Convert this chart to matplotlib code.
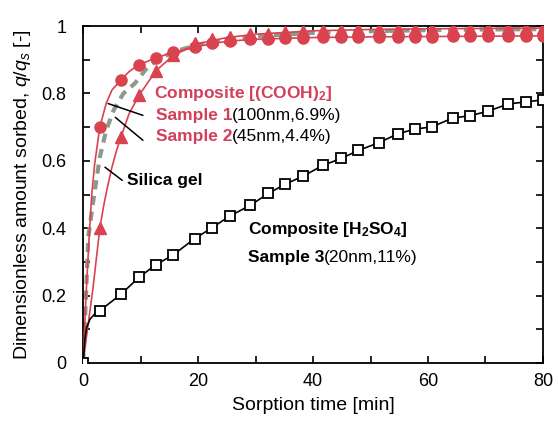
import matplotlib
matplotlib.use("Agg")
import matplotlib.pyplot as plt

plt.rcParams["font.family"] = ["Liberation Sans", "DejaVu Sans"]
plt.rcParams["mathtext.fontset"] = "custom"
plt.rcParams["mathtext.rm"] = "Liberation Sans"
plt.rcParams["mathtext.it"] = "Liberation Sans:italic"
plt.rcParams["mathtext.bf"] = "Liberation Sans:bold"

RED = "#d9434f"
RED_TXT = "#d2405a"
GRAY = "#8c9a8c"

# marker sampling times [min]
t_pts = [0, 2.9, 6.6, 9.7, 12.7, 15.7, 19.4, 22.5, 25.5, 29.1, 32.2, 35.2, 38.2,
         41.8, 44.9, 47.9, 51.5, 54.7, 57.7, 60.7, 64.3, 67.3, 70.4, 74.0, 77.1, 80.0]

# Sample 3 (H2SO4) - open squares
q_s3 = [0, 0.155, 0.204, 0.254, 0.292, 0.321, 0.369, 0.402, 0.436, 0.468, 0.503, 0.531,
        0.554, 0.587, 0.607, 0.631, 0.654, 0.680, 0.694, 0.701, 0.727, 0.734, 0.747,
        0.769, 0.775, 0.781]
# Sample 1 (COOH)2 - circles
q_s1 = [0, 0.700, 0.840, 0.885, 0.906, 0.922, 0.938, 0.950, 0.957, 0.962, 0.963, 0.965,
        0.966, 0.967, 0.967, 0.968, 0.968, 0.968, 0.969, 0.969, 0.970, 0.970, 0.970,
        0.970, 0.971, 0.971]
# Sample 2 (COOH)2 - triangles
q_s2 = [0, 0.400, 0.672, 0.794, 0.868, 0.913, 0.950, 0.962, 0.967, 0.977, 0.978, 0.982,
        0.985, 0.987, 0.989, 0.990, 0.990, 0.991, 0.991, 0.992, 0.992, 0.992, 0.993,
        0.993, 0.993, 0.994]

# fitted curves
fit_t1 = [0, 0.5, 1.0, 1.5, 2.0, 2.9, 4.0, 5.0, 6.6, 8.0, 9.7, 12.7, 15.7, 20, 25, 30, 40, 50, 60, 70, 80]
fit_q1 = [0, 0.20, 0.36, 0.50, 0.59, 0.70, 0.77, 0.81, 0.84, 0.865, 0.885, 0.906, 0.922,
          0.940, 0.955, 0.961, 0.966, 0.968, 0.969, 0.970, 0.971]
fit_t2 = [0, 0.6, 1.7, 2.9, 3.5, 4.2, 5.0, 5.8, 6.6, 8.0, 9.7, 12.7, 15.7, 20, 25, 30, 40, 50, 60, 70, 80]
fit_q2 = [0, 0.08, 0.22, 0.40, 0.46, 0.52, 0.58, 0.63, 0.672, 0.74, 0.794, 0.868, 0.913,
          0.948, 0.966, 0.976, 0.986, 0.990, 0.992, 0.993, 0.994]
fit_tg = [0, 0.5, 0.9, 1.8, 2.9, 4.0, 5.3, 7.0, 9.0, 11.3, 14, 17, 20, 25, 30, 40, 50, 60, 70, 80]
fit_qg = [0, 0.20, 0.375, 0.485, 0.611, 0.69, 0.75, 0.80, 0.83, 0.88, 0.91, 0.93, 0.945,
          0.960, 0.970, 0.980, 0.985, 0.988, 0.990, 0.991]
fit_t3 = [0, 0.3, 0.6, 1.2, 2.0, 2.9] + t_pts[2:]
fit_q3 = [0, 0.07, 0.105, 0.13, 0.145, 0.155] + q_s3[2:]

fig = plt.figure(figsize=(5.58, 4.21), dpi=100)
ax = fig.add_axes([0.149, 0.138, 0.824, 0.800])

ax.plot(fit_tg, fit_qg, color=GRAY, lw=3, ls=(0, (2.2, 1.6)), zorder=2)
ax.plot(fit_t1, fit_q1, color=RED, lw=1.2, zorder=3)
ax.plot(fit_t2, fit_q2, color=RED, lw=1.2, zorder=3)
ax.plot(t_pts[1:], q_s1[1:], ls="none", marker="o", ms=8, color=RED, zorder=4)
ax.plot(t_pts[1:], q_s2[1:], ls="none", marker="^", ms=9, color=RED, zorder=4)
ax.plot(fit_t3, fit_q3, color="black", lw=1.2, zorder=3)
ax.plot(t_pts, q_s3, ls="none", marker="s", ms=6.5, mfc="white", mec="black",
        mew=1.3, zorder=5)

ax.set_xlim(0, 80)
ax.set_ylim(0, 1)
ax.set_xticks([0, 20, 40, 60, 80])
ax.set_xticks([10, 30, 50, 70], minor=True)
ax.set_yticks([0, 0.2, 0.4, 0.6, 0.8, 1])
ax.set_yticks([0.1, 0.3, 0.5, 0.7, 0.9], minor=True)
ax.set_yticklabels(["0", "0.2", "0.4", "0.6", "0.8", "1"])
ax.tick_params(which="both", direction="in", top=True, right=True, length=5,
               width=1.2, labelsize=13)
ax.tick_params(axis="x", pad=7)
ax.tick_params(axis="y", pad=12)
for s in ax.spines.values():
    s.set_linewidth(1.3)

ax.set_xlabel("Sorption time [min]", fontsize=14, labelpad=5)
ax.set_ylabel("Dimensionless amount sorbed, $q/q_s$ [-]", fontsize=14, labelpad=6)

# annotations
ax.text(12.3, 0.80, r"Composite [(COOH)$\mathbf{_2}$]", color=RED_TXT, fontsize=12.5,
        fontweight="bold", va="center")
t1 = ax.text(12.6, 0.735, "Sample 1", color=RED_TXT, fontsize=12.5, fontweight="bold",
             va="center")
ax.annotate("(100nm,6.9%)", xy=(1, 0.5), xycoords=t1, va="center", fontsize=12.5)
t2 = ax.text(12.6, 0.673, "Sample 2", color=RED_TXT, fontsize=12.5, fontweight="bold",
             va="center")
ax.annotate("(45nm,4.4%)", xy=(1, 0.5), xycoords=t2, va="center", fontsize=12.5)
ax.text(7.6, 0.542, "Silica gel", fontsize=12.5, fontweight="bold", va="center")
ax.text(28.6, 0.397, r"Composite [H$\mathbf{_2}$SO$\mathbf{_4}$]", fontsize=12.5,
        fontweight="bold", va="center")
t3 = ax.text(28.6, 0.314, "Sample 3", fontsize=12.5, fontweight="bold", va="center")
ax.annotate("(20nm,11%)", xy=(1, 0.5), xycoords=t3, va="center", fontsize=12.5)

# leader lines
lp = dict(arrowstyle="-", color="black", lw=1.1, shrinkA=0, shrinkB=0)
ax.annotate("", xy=(4.35, 0.770), xytext=(10.4, 0.735), arrowprops=lp)
ax.annotate("", xy=(5.6, 0.729), xytext=(10.4, 0.661), arrowprops=lp)
ax.annotate("", xy=(3.8, 0.581), xytext=(6.8, 0.542), arrowprops=lp)

fig.savefig("out.png", dpi=100)
